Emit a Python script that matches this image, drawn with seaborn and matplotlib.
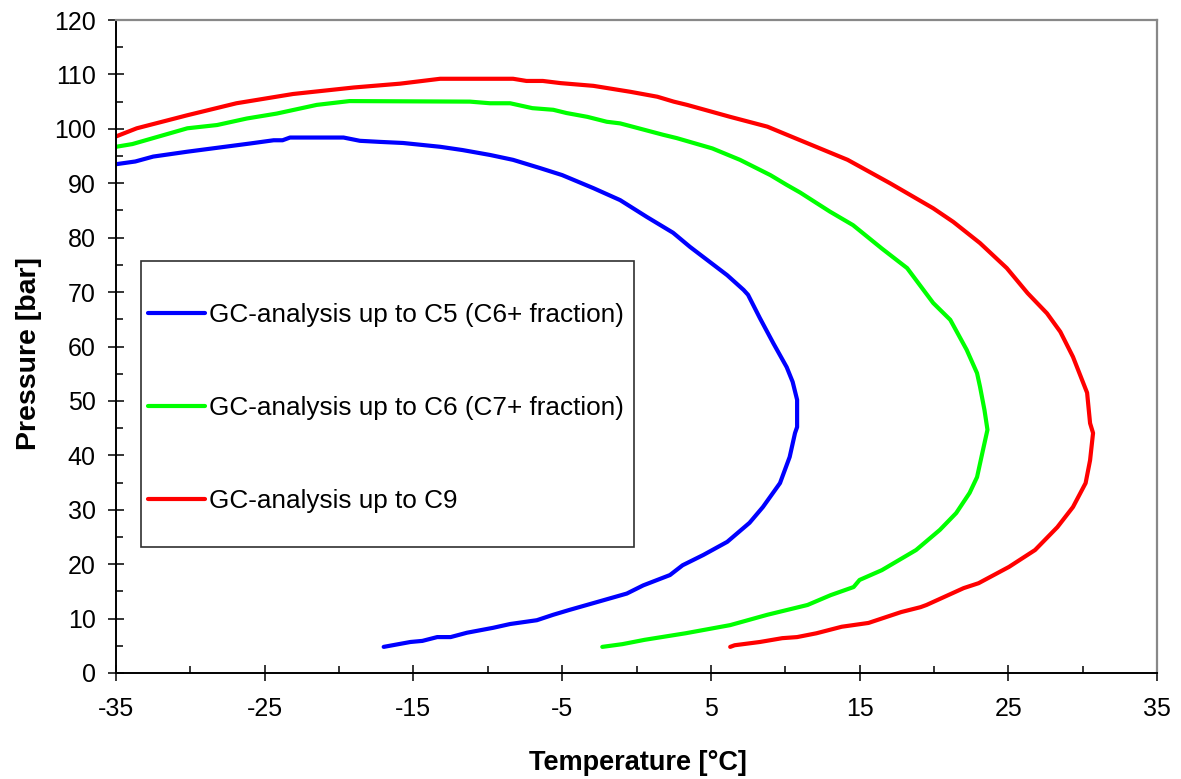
import matplotlib
matplotlib.use("Agg")
import matplotlib.pyplot as plt
from matplotlib.ticker import AutoMinorLocator
from matplotlib.patches import Rectangle
import seaborn as sns
import pandas as pd

# ---------------- data ----------------
series_labels = [
    "GC-analysis up to C5 (C6+ fraction)",
    "GC-analysis up to C6 (C7+ fraction)",
    "GC-analysis up to C9",
]
series_colors = ["#0000FF", "#00FF00", "#FF0000"]

blue_T = [-17.0, -15.2, -14.4, -13.4, -12.5, -11.4, -9.65, -8.5, -6.7, -5.6, -4.5, -2.7,
          -0.65, 0.45, 2.25, 3.1, 4.5, 6.1, 7.6, 8.5, 9.65, 10.3, 10.66, 10.8, 10.8, 10.5,
          10.1, 9.2, 8.3, 7.5, 7.2, 6.1, 3.6, 2.46, 0.7, -1.1, -2.9, -5.0, -6.5, -8.3,
          -9.85, -11.7, -13.2, -15.7, -17.25, -18.6, -19.7, -23.3, -23.8, -24.4, -26.0,
          -30.2, -32.5, -33.7, -35.0]
blue_P = [4.8, 5.7, 5.9, 6.6, 6.6, 7.4, 8.3, 9.0, 9.7, 10.7, 11.6, 13.0,
          14.6, 16.1, 18.0, 19.8, 21.7, 24.1, 27.6, 30.5, 34.9, 39.7, 44.1, 45.2, 50.2, 53.5,
          56.2, 60.6, 65.2, 69.5, 70.4, 73.1, 78.3, 80.9, 83.8, 86.9, 89.1, 91.5, 92.8, 94.3,
          95.2, 96.1, 96.7, 97.4, 97.6, 97.8, 98.4, 98.4, 97.9, 97.9, 97.3,
          95.8, 94.9, 94.0, 93.5]

green_T = [-2.3, -0.95, 0.55, 3.3, 6.3, 8.8, 11.5, 13.05, 14.6, 15.0, 16.5, 18.8, 20.4,
           21.5, 22.4, 22.9, 23.3, 23.6, 23.4, 23.1, 22.9, 22.2, 21.1, 19.95, 18.2, 16.5,
           14.56, 13.0, 11.0, 10.1, 9.0, 6.96, 5.1, 2.7, 1.8, -1.1, -2.0, -3.3, -4.7, -5.6,
           -7.0, -8.5, -9.85, -11.2, -19.3, -21.5, -24.2, -26.2, -28.2, -30.2, -33.9, -35.0]
green_P = [4.8, 5.3, 6.1, 7.3, 8.8, 10.7, 12.5, 14.3, 15.8, 17.1, 18.9, 22.6, 26.3,
           29.4, 33.1, 36.0, 41.0, 44.7, 48.3, 52.6, 55.1, 59.4, 64.9, 68.0, 74.4, 78.0,
           82.3, 84.8, 88.3, 89.7, 91.5, 94.3, 96.4, 98.3, 98.9, 101.0, 101.3, 102.2, 102.9, 103.5,
           103.8, 104.7, 104.7, 105.0, 105.1, 104.4, 102.8, 101.9, 100.7, 100.1, 97.2, 96.7]

red_T = [6.3, 6.6, 8.3, 9.8, 10.8, 12.1, 13.8, 15.6, 17.8, 19.1, 19.5, 22.0, 23.0, 25.05,
         26.8, 28.3, 29.35, 30.2, 30.5, 30.7, 30.5, 30.3, 29.35, 28.5, 27.6, 26.3, 24.9,
         23.1, 21.3, 19.95, 17.05, 14.2, 10.3, 8.8, 6.3, 3.4, 2.5, 1.4, -0.4, -2.9, -5.1,
         -6.3, -7.4, -8.3, -13.2, -15.9, -19.0, -23.1, -26.9, -30.2, -33.6, -35.0]
red_P = [4.8, 5.1, 5.7, 6.4, 6.6, 7.3, 8.5, 9.2, 11.2, 12.1, 12.5, 15.6, 16.5, 19.5,
         22.6, 26.8, 30.5, 34.9, 39.1, 44.1, 45.9, 51.5, 58.1, 62.7, 66.1, 69.8, 74.4,
         79.0, 82.9, 85.4, 90.0, 94.3, 98.7, 100.4, 102.2, 104.4, 105.0, 105.9, 106.8, 107.9, 108.4,
         108.8, 108.8, 109.2, 109.2, 108.3, 107.6, 106.4, 104.7, 102.5, 100.1, 98.6]

x_ticks = [-35, -25, -15, -5, 5, 15, 25, 35]
y_ticks = [0, 10, 20, 30, 40, 50, 60, 70, 80, 90, 100, 110, 120]
x_label = "Temperature [°C]"
y_label = "Pressure [bar]"

# ---------------- build long table ----------------
frames = []
for lab, T, P in zip(series_labels, [blue_T, green_T, red_T], [blue_P, green_P, red_P]):
    frames.append(pd.DataFrame({"T": T, "P": P, "series": lab}))
df = pd.concat(frames, ignore_index=True)

# ---------------- style ----------------
sns.set_theme(style="white")
plt.rcParams["font.family"] = ["Liberation Sans", "DejaVu Sans"]
plt.rcParams["text.color"] = "black"
plt.rcParams["axes.labelcolor"] = "black"

fig = plt.figure(figsize=(11.81, 7.79), dpi=100)
ax = fig.add_axes([116 / 1181, 106 / 779, 1041 / 1181, 653 / 779])

sns.lineplot(data=df, x="T", y="P", hue="series", hue_order=series_labels,
             palette=series_colors, sort=False, estimator=None, linewidth=3.0,
             ax=ax, legend=True)

ax.set_xlim(x_ticks[0], x_ticks[-1])
ax.set_ylim(y_ticks[0], y_ticks[-1])
ax.set_xticks(x_ticks)
ax.set_yticks(y_ticks)
ax.set_xticklabels([str(v) for v in x_ticks])
ax.set_yticklabels([str(v) for v in y_ticks])
ax.xaxis.set_minor_locator(AutoMinorLocator(2))
ax.yaxis.set_minor_locator(AutoMinorLocator(2))

ax.tick_params(which="major", direction="inout", length=11, width=1.1, color="black",
               labelsize=18, labelcolor="black")
ax.tick_params(axis="x", which="major", pad=12)
ax.tick_params(axis="y", which="major", pad=9)
ax.tick_params(which="minor", direction="in", length=5, width=1.1, color="black")
ax.tick_params(bottom=True, left=True, which="both")

for side in ["left", "bottom"]:
    ax.spines[side].set_color("black")
    ax.spines[side].set_linewidth(1.4)
for side in ["top", "right"]:
    ax.spines[side].set_color("#888888")
    ax.spines[side].set_linewidth(1.6)

ax.set_xlabel(x_label, fontsize=19.5, fontweight="bold", color="black")
ax.set_ylabel(y_label, fontsize=20.5, fontweight="bold", color="black")
ax.xaxis.set_label_coords(0.5014, -0.118)
ax.yaxis.set_label_coords(-0.071, 0.49)

# legend: frameless, with a separate box
leg_fs = 18.8
fs_px = leg_fs * 100 / 72
handles, labels = ax.get_legend_handles_labels()
for h in handles:
    h.set_linewidth(3.0)
leg = ax.legend(handles, labels, loc="center left", bbox_to_anchor=(0.0307, 0.4058),
                frameon=False, fontsize=leg_fs, borderpad=0, borderaxespad=0,
                handlelength=57 / fs_px, handletextpad=4 / fs_px, labelspacing=2.64,
                labelcolor="black")
ax.add_patch(Rectangle((0.0238, 0.193), 0.4736, 0.438, transform=ax.transAxes,
                       facecolor="none", edgecolor="#303030", linewidth=1.2, zorder=5))

fig.savefig("out.png", dpi=100)
